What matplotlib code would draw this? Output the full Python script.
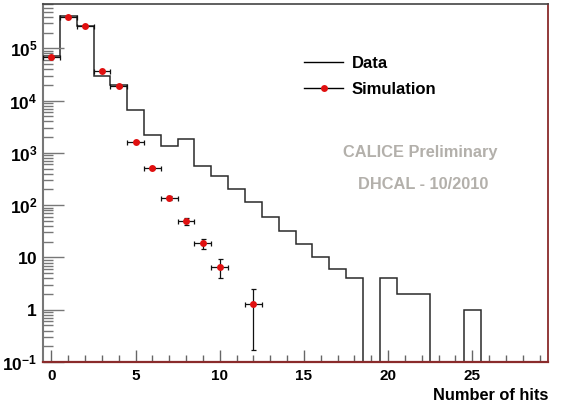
import numpy as np
import matplotlib
matplotlib.use("Agg")
import matplotlib.pyplot as plt
from matplotlib.lines import Line2D
from matplotlib.ticker import FixedLocator, LogLocator, NullFormatter, MultipleLocator

plt.rcParams['font.family'] = ['Liberation Sans', 'DejaVu Sans']
plt.rcParams['mathtext.fontset'] = 'custom'
plt.rcParams['mathtext.bf'] = 'Liberation Sans:bold'
plt.rcParams['mathtext.rm'] = 'Liberation Sans:bold'

# Data histogram: counts per number of hits (0..29)
data_counts = [71000, 422000, 264000, 29900, 20100, 6490, 2180, 1360, 1830, 564,
               362, 202, 115, 60, 32, 18, 10, 6, 4, 0,
               4, 2, 2, 0, 0, 1, 0, 0, 0, 0]
hit_edges = np.arange(-0.5, 30.0, 1.0)

# Simulation points
sim_x = [0, 1, 2, 3, 4, 5, 6, 7, 8, 9, 10, 12]
sim_y = [67000, 403000, 271000, 37200, 18700, 1650, 525, 136, 49, 18.9, 6.5, 1.3]
sim_lo = [66700, 402400, 270500, 37000, 18560, 1610, 502, 124, 42, 14.3, 4.0, 0.17]
sim_hi = [67300, 403600, 271500, 37400, 18840, 1690, 548, 148, 56, 22.9, 9.2, 2.45]
sim_xerr = 0.5

y_ticks = [0.1, 1, 10, 100, 1000, 1e4, 1e5]
y_labels = [r'$\mathbf{10^{-1}}$', r'$\mathbf{1}$', r'$\mathbf{10}$', r'$\mathbf{10^{2}}$',
            r'$\mathbf{10^{3}}$', r'$\mathbf{10^{4}}$', r'$\mathbf{10^{5}}$']

fig = plt.figure(figsize=(5.61, 4.08), dpi=100)
ax = fig.add_axes([43 / 561, 1 - 362 / 408, 505 / 561, 358.5 / 408])
ax.set_yscale('log')

counts = np.array(data_counts, dtype=float)
plot_counts = np.where(counts > 0, counts, 1e-3)
ax.stairs(plot_counts, hit_edges, baseline=None, color='#2a2a2a', lw=1.1)

sim_y_arr = np.array(sim_y)
yerr = [sim_y_arr - np.array(sim_lo), np.array(sim_hi) - sim_y_arr]
ax.errorbar(sim_x, sim_y, xerr=sim_xerr, yerr=yerr, fmt='none', ecolor='#111111',
            elinewidth=0.9, capsize=1.8, capthick=0.9, zorder=3)
ax.plot(sim_x, sim_y, 'o', color='#e01010', markersize=5, markeredgewidth=0, zorder=4)

ax.set_xlim(-0.5, 29.5)
ax.set_ylim(0.1, 7.2e5)

ax.yaxis.set_major_locator(FixedLocator(y_ticks))
ax.set_yticklabels(y_labels)
ax.yaxis.set_minor_locator(LogLocator(base=10, subs=np.arange(2, 10)))
ax.yaxis.set_minor_formatter(NullFormatter())
ax.xaxis.set_major_locator(MultipleLocator(5))
ax.xaxis.set_minor_locator(MultipleLocator(1))

ax.tick_params(axis='y', which='major', direction='in', length=15, width=1, color='#777777',
               labelsize=12.5, pad=4)
ax.tick_params(axis='y', which='minor', direction='in', length=7, width=1, color='#777777')
ax.tick_params(axis='x', which='major', direction='in', length=9, width=1, color='#666666',
               labelsize=11, pad=5)
ax.tick_params(axis='x', which='minor', direction='in', length=5, width=1, color='#666666')
for lab in ax.get_xticklabels():
    lab.set_fontweight('bold')

ax.spines['left'].set_color('#777777')
ax.spines['left'].set_linewidth(1.5)
ax.spines['top'].set_color('#444444')
ax.spines['top'].set_linewidth(1.2)
ax.spines['right'].set_color('#8a2b2b')
ax.spines['right'].set_linewidth(1.3)
ax.spines['bottom'].set_color('#8a2b2b')
ax.spines['bottom'].set_linewidth(1.6)

handles = [Line2D([], [], color='black', lw=1),
           Line2D([], [], color='black', lw=1, marker='o', markersize=5,
                  markerfacecolor='#e01010', markeredgewidth=0)]
ax.legend(handles, ['Data', 'Simulation'], loc='upper left', bbox_to_anchor=(0.517, 0.853),
          frameon=False, borderpad=0, borderaxespad=0, handlelength=2.35, handletextpad=0.5,
          labelspacing=0.62, prop={'weight': 'bold', 'size': 12})

ax.text(0.747, 0.584, 'CALICE Preliminary', transform=ax.transAxes, ha='center', va='center',
        fontsize=11.8, fontweight='bold', color='#b3b0ab')
ax.text(0.752, 0.495, 'DHCAL - 10/2010', transform=ax.transAxes, ha='center', va='center',
        fontsize=11.8, fontweight='bold', color='#b3b0ab')

fig.text(548 / 561, 1 - 396 / 408, 'Number of hits', ha='right', va='center',
         fontsize=11.8, fontweight='bold')

fig.savefig('out.png', dpi=100)
